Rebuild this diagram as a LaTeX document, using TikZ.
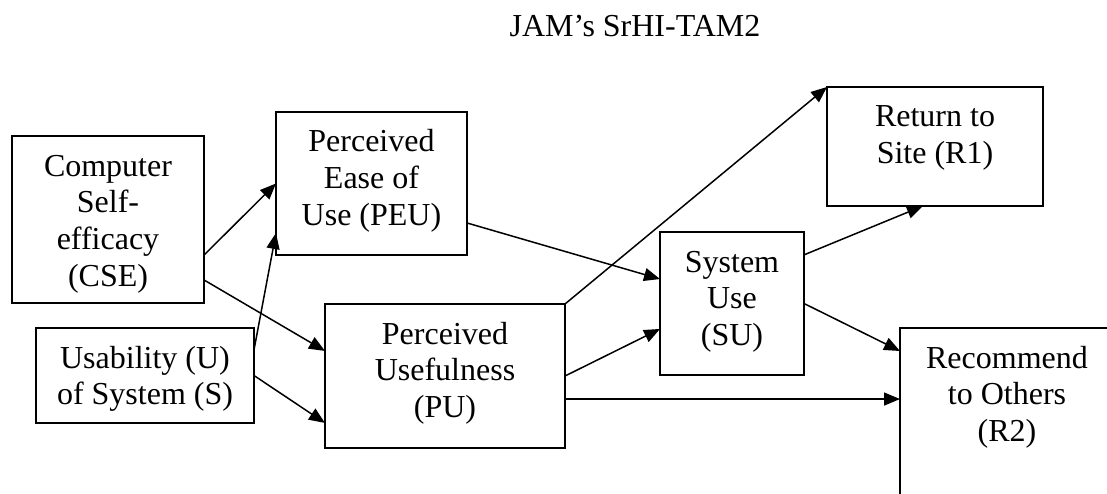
\documentclass[tikz,border=0pt]{standalone}
\usepackage{fontspec}
\setmainfont{Liberation Serif}
\usetikzlibrary{arrows.meta,calc}
\begin{document}
\begin{tikzpicture}[x=1pt,y=-1pt,
  box/.style={draw, line width=2.2pt, inner sep=0pt, outer sep=0pt, anchor=north west},
  txt/.style={align=center, inner sep=0pt, outer sep=0pt, anchor=north, font=\fontsize{32}{36.8}\selectfont},
  conn/.style={line width=1.5pt, -{Triangle[length=16pt,width=13pt]}}]
\useasboundingbox (0,0) rectangle (1107,494);
\node[txt, anchor=base] (title) at (635,37) {JAM’s SrHI-TAM2};
% boxes
\node[box, minimum width=192, minimum height=167] (cse) at (12,136) {};
\node[box, minimum width=191, minimum height=143] (peu) at (276,112) {};
\node[box, minimum width=218, minimum height=95] (u) at (36,328) {};
\node[box, minimum width=240, minimum height=144] (pu) at (325,304) {};
\node[box, minimum width=144, minimum height=143] (su) at (660,232) {};
\node[box, minimum width=216, minimum height=119] (r1) at (827,87) {};
\begin{scope}
\clip (0,0) rectangle (1107,494);
\node[box, minimum width=214, minimum height=200] (r2) at (900,328) {};
\end{scope}
% texts
\node[txt] (cse-t) at ($(cse.north)+(0,14.24)$) {\strut Computer\\Self-\\efficacy\\(CSE)};
\node[txt] (peu-t) at ($(peu.north)+(0,14.24)$) {\strut Perceived\\Ease of\\Use (PEU)};
\node[txt] (u-t) at ($(u.north)+(0,14.24)$) {\strut Usability (U)\\of System (S)};
\node[txt] (pu-t) at ($(pu.north)+(0,14.24)$) {\strut Perceived\\Usefulness\\(PU)};
\node[txt] (su-t) at ($(su.north)+(0,14.24)$) {\strut System\\Use\\(SU)};
\node[txt] (r1-t) at ($(r1.north)+(0,14.24)$) {\strut Return to\\Site (R1)};
\node[txt] (r2-t) at ($(r2.north)+(0,14.24)$) {\strut Recommend\\to Others\\(R2)};
% connectors
\draw[conn] ($(cse.north east)!0.713!(cse.south east)$) -- (peu.west);
\draw[conn] ($(cse.north east)!0.862!(cse.south east)$) -- ($(pu.north west)!0.326!(pu.south west)$);
\draw[conn] ($(u.north east)!0.23!(u.south east)$) -- ($(peu.north west)!0.846!(peu.south west)$);
\draw[conn] (u.east) -- ($(pu.north west)!0.826!(pu.south west)$);
\draw[conn] ($(peu.north east)!0.776!(peu.south east)$) -- ($(su.north west)!0.329!(su.south west)$);
\draw[conn] (pu.north east) -- (r1.north west);
\draw[conn] (pu.east) -- ($(su.north west)!0.678!(su.south west)$);
\coordinate (pur2) at ($(pu.north east)!0.66!(pu.south east)$);
\draw[conn] (pur2) -- (pur2 -| r2.west);
\draw[conn] ($(su.north east)!0.16!(su.south east)$) -- ($(r1.south west)!0.444!(r1.south east)$);
\draw[conn] (su.east) -- ([yshift=-23pt]r2.north west);
\end{tikzpicture}
\end{document}
